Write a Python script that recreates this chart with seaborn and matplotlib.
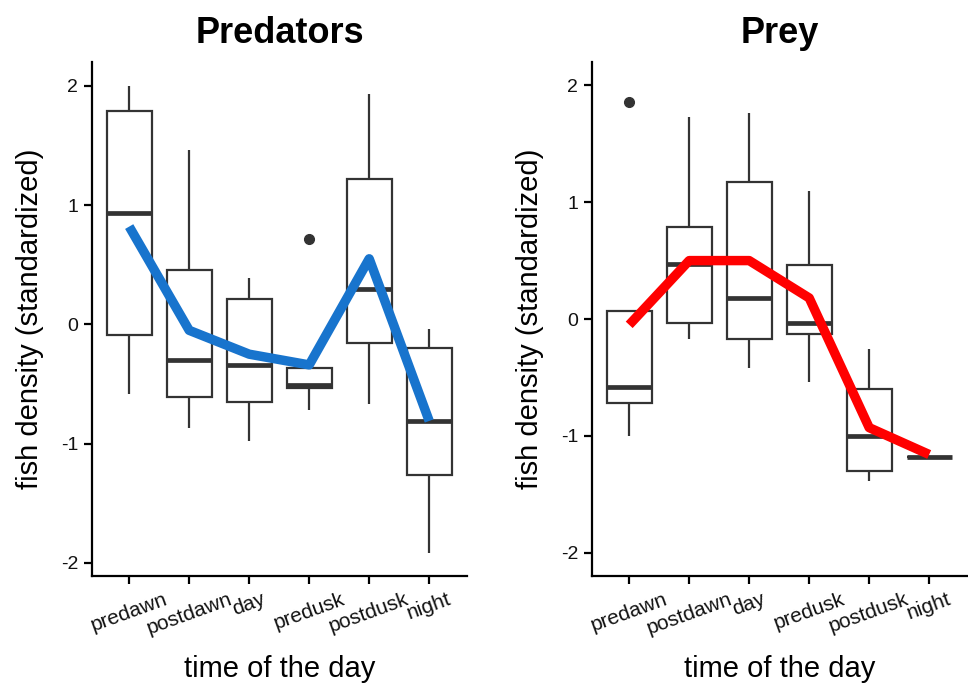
import numpy as np
import pandas as pd
import matplotlib
matplotlib.use("Agg")
import matplotlib.pyplot as plt
import seaborn as sns

# ---------------- data ----------------
categories = ["predawn", "postdawn", "day", "predusk", "postdusk", "night"]

# Predators box statistics (lower whisker, Q1, median, Q3, upper whisker), outliers
pred_low = [-0.58, -0.87, -0.98, -0.72, -0.67, -1.92]
pred_q1 = [-0.09, -0.61, -0.65, -0.53, -0.16, -1.26]
pred_med = [0.93, -0.30, -0.34, -0.51, 0.30, -0.81]
pred_q3 = [1.79, 0.46, 0.21, -0.37, 1.22, -0.20]
pred_high = [2.00, 1.46, 0.39, -0.37, 1.93, -0.04]
pred_out = [None, None, None, 0.72, None, None]
pred_line = [0.82, -0.05, -0.25, -0.34, 0.55, -0.81]

# Prey box statistics
prey_low = [-1.00, -0.17, -0.42, -0.54, -1.39, -1.18]
prey_q1 = [-0.72, -0.03, -0.17, -0.13, -1.30, -1.18]
prey_med = [-0.58, 0.47, 0.18, -0.03, -1.00, -1.18]
prey_q3 = [0.07, 0.79, 1.17, 0.46, -0.60, -1.18]
prey_high = [0.07, 1.73, 1.76, 1.10, -0.26, -1.18]
prey_out = [1.86, None, None, None, None, None]
prey_line = [-0.05, 0.50, 0.50, 0.18, -0.93, -1.16]

y_ticks = [-2, -1, 0, 1, 2]
titles = ["Predators", "Prey"]
x_title = "time of the day"
y_title = "fish density (standardized)"
line_colors = ["#1874CD", "#FF0000"]


def build_sample(low, q1, med, q3, high, out):
    """9-point sample whose quartiles/whiskers reproduce the given stats."""
    rows = []
    for cat, lo, a, m, b, hi, o in zip(categories, low, q1, med, q3, high, out):
        last = hi if o is None else o
        vals = [lo, lo, a, (a + m) / 2, m, (m + b) / 2, b, hi, last]
        rows += [(cat, v) for v in vals]
    return pd.DataFrame(rows, columns=["time", "value"])


pred_df = build_sample(pred_low, pred_q1, pred_med, pred_q3, pred_high, pred_out)
prey_df = build_sample(prey_low, prey_q1, prey_med, prey_q3, prey_high, prey_out)

# ---------------- style ----------------
sns.set_theme(style="ticks")
plt.rcParams["font.family"] = ["Liberation Sans", "DejaVu Sans"]
plt.rcParams["text.color"] = "black"
plt.rcParams["axes.labelcolor"] = "black"

fig = plt.figure(figsize=(9.68, 6.85), dpi=100)
ax_positions = [
    [92 / 968, 1 - 576 / 685, (467 - 92) / 968, (576 - 62) / 685],
    [592 / 968, 1 - 576 / 685, (967 - 592) / 968, (576 - 62) / 685],
]
ylims = [(-2.11, 2.2), (-2.2, 2.2)]
box_color = "#333333"

for i, (df, line_vals) in enumerate([(pred_df, pred_line), (prey_df, prey_line)]):
    ax = fig.add_axes(ax_positions[i])
    sns.boxplot(
        data=df, x="time", y="value", order=categories, ax=ax,
        width=0.75, color="white", linecolor=box_color, linewidth=1.6,
        saturation=1, whis=1.5, showcaps=False,
        medianprops=dict(linewidth=3.4, color=box_color),
        flierprops=dict(marker="o", markerfacecolor=box_color,
                        markeredgecolor=box_color, markersize=7),
    )
    sns.lineplot(
        x=np.arange(len(categories)), y=line_vals, ax=ax,
        color=line_colors[i], linewidth=6.8, sort=False,
        solid_capstyle="butt", solid_joinstyle="round", zorder=5,
    )
    ax.set_xlim(-0.62, 5.63)
    ax.set_ylim(*ylims[i])
    ax.set_yticks(y_ticks)
    ax.set_yticklabels([str(t) for t in y_ticks], fontsize=14, color="#111111")
    ax.set_xticks(np.arange(len(categories)))
    ax.set_xticklabels(categories, fontsize=15, rotation=20, ha="center",
                       color="#111111")
    for s in ["top", "right"]:
        ax.spines[s].set_visible(False)
    for s in ["left", "bottom"]:
        ax.spines[s].set_linewidth(1.6)
        ax.spines[s].set_color("black")
    ax.tick_params(axis="both", length=6, width=1.6, color="black", pad=4)
    ax.set_xlabel(x_title, fontsize=21, labelpad=12, color="black")
    ax.set_ylabel(y_title, fontsize=21, labelpad=12, color="black")
    ax.set_title(titles[i], fontsize=26, fontweight="bold", pad=14, color="black")

fig.savefig("out.png", dpi=100, facecolor="white")
